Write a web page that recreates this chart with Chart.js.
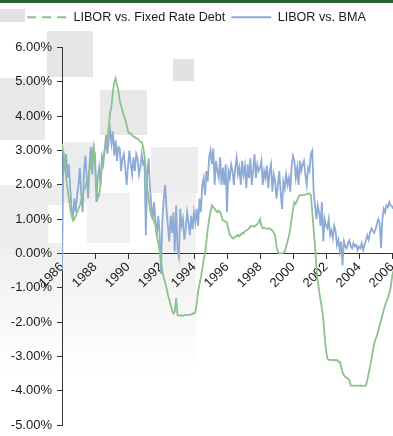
<!DOCTYPE html>
<html>
<head>
<meta charset="utf-8">
<script src="https://cdn.jsdelivr.net/npm/chart.js@4.4.1/dist/chart.umd.min.js"></script>
<style>
  html, body { margin: 0; padding: 0; background: #ffffff; }
  #wrap { width: 393px; height: 436px; position: relative; }
</style>
</head>
<body>
<div id="wrap"><canvas id="c" width="393" height="436"></canvas></div>
<script>
// Monthly spreads in percent, starting January 1986
const startYear = 1986;

const fixedRateSpread = [
  3.2, 2.9, 2.6, 2.2, 1.9, 1.6, 1.3, 1.1, 0.96, 1.0, 1.1, 1.2,
  1.3, 1.4, 1.55, 1.7, 1.85, 1.95, 2.1, 2.2, 2.4, 2.6, 2.85, 3.1,
  2.6, 2.0, 1.6, 1.7, 2.0, 2.5, 2.85, 3.0, 3.2, 3.35, 3.7, 4.1,
  4.3, 4.7, 5.0, 5.1, 4.9, 4.75, 4.45, 4.3, 4.15, 4.0, 3.9, 3.75,
  3.55, 3.5, 3.5, 3.45, 3.4, 3.4, 3.35, 3.35, 3.3, 3.25, 3.25, 3.1,
  2.85, 2.4, 1.9, 1.6, 1.3, 1.1, 1.0, 0.95, 0.8, 0.5, 0.3, 0.1,
  -0.2, -0.5, -0.7, -0.85, -1.0, -1.2, -1.35, -1.5, -1.65, -1.75, -1.7, -1.3,
  -1.8, -1.8, -1.82, -1.8, -1.82, -1.8, -1.78, -1.8, -1.8, -1.78, -1.78, -1.75,
  -1.75, -1.7, -1.45, -1.1, -0.9, -0.7, -0.45, -0.2, 0.0, 0.35, 0.7, 1.0,
  1.2, 1.4, 1.35, 1.3, 1.25, 1.2, 1.25, 1.2, 1.1, 0.96, 0.95, 0.93,
  0.9, 0.7, 0.55, 0.5, 0.44, 0.44, 0.5, 0.5, 0.55, 0.5, 0.55, 0.6,
  0.58, 0.65, 0.67, 0.7, 0.72, 0.8, 0.79, 0.8, 0.78, 0.82, 0.85, 0.9,
  1.0, 0.8, 0.73, 0.75, 0.73, 0.72, 0.73, 0.73, 0.7, 0.67, 0.6, 0.53,
  0.2, 0.06, 0.0, 0.0, 0.0, 0.02, 0.06, 0.2, 0.35, 0.5, 0.73, 1.0,
  1.3, 1.5, 1.45, 1.55, 1.65, 1.7, 1.7, 1.7, 1.7, 1.72, 1.72, 1.75,
  1.75, 1.7, 1.2, 0.7, 0.2, -0.4, -0.8, -1.1, -1.35, -1.6, -1.9, -2.4,
  -2.8, -3.06, -3.1, -3.1, -3.1, -3.12, -3.1, -3.12, -3.1, -3.15, -3.15, -3.3,
  -3.45, -3.55, -3.6, -3.62, -3.65, -3.7, -3.85, -3.85, -3.85, -3.86, -3.85, -3.85,
  -3.86, -3.85, -3.86, -3.86, -3.86, -3.85, -3.7, -3.5, -3.3, -3.1, -2.85, -2.65,
  -2.5, -2.4, -2.25, -2.1, -1.95, -1.8, -1.65, -1.5, -1.4, -1.3, -1.15, -1.0,
  -0.7, -0.5
];

const bmaSpread = [
  -0.5, 3.0, 2.4, 2.9, 2.2, 2.6, 1.9, 1.3, 1.1, 1.6, 1.2, 1.7,
  2.0, 2.5, 1.7, 1.2, 2.4, 2.85, 2.2, 1.6, 2.6, 3.1, 2.3, 3.05,
  2.9, 1.5, 2.2, 2.5, 2.0, 2.8, 2.6, 3.0, 3.45, 2.9, 3.3, 3.6,
  3.2, 3.55, 2.85, 3.3, 2.7, 3.1, 3.06, 2.4, 2.77, 2.9, 2.5, 2.0,
  2.55, 3.0, 2.6, 2.3, 2.8, 2.4, 2.9, 2.77, 2.3, 2.5, 2.9, 2.6,
  2.7, 0.53, 2.3, 2.77, 1.9, 1.4, 1.0, 1.5, 0.9, 0.5, 1.1, 0.6,
  -0.6, 1.0, 1.6, 2.0, 1.3, 0.8, 0.35, 1.1, 0.6, 1.2, 0.06, 1.4,
  0.1, -0.1, 1.3, 0.8, 1.0, 0.4, 0.73, 1.2, 0.9, 0.53, 1.1, 0.7,
  1.2, 0.9, 1.3, 0.8, 1.6, 1.2, 2.0, 2.2, 1.7, 2.4, 2.1, 2.8,
  3.0, 2.6, 3.06, 2.0, 2.7, 2.4, 2.2, 2.8, 2.0, 2.5, 2.0, 2.6,
  1.2, 2.4, 2.2, 2.6, 2.4, 2.0, 2.5, 2.8, 2.3, 2.5, 2.0, 2.7,
  2.3, 2.56, 1.9, 2.6, 2.2, 2.77, 2.0, 2.4, 2.9, 2.2, 2.6, 2.4,
  2.5, 2.7, 2.0, 2.4, 2.2, 2.56, 1.9, 2.4, 2.6, 1.8, 2.3, 2.1,
  1.6, 2.0, 2.4, 1.8, 1.3, 2.1, 1.9, 2.3, 2.0, 2.2, 1.8, 2.56,
  2.85, 2.7, 2.2, 2.5, 2.0, 2.7, 2.4, 2.6, 2.7, 2.3, 2.0, 2.5,
  2.4, 2.9, 3.0, 1.8, 1.4, 1.0, 1.4, 1.2, 0.8, 1.5, 0.35, 1.0,
  0.8, 0.73, 1.0, 0.53, 0.67, 0.44, 0.8, 0.64, 0.24, 0.4, 0.06, 0.35,
  -0.35, 0.35, 0.2, 0.15, 0.3, 0.38, 0.2, 0.15, 0.3, 0.2, 0.25, 0.1,
  0.2, 0.15, 0.3, 0.1, 0.25, 0.38, 0.53, 0.4, 0.6, 0.73, 0.67, 0.6,
  0.7, 0.85, 1.0, 0.9, 0.15, 1.0, 1.3, 1.2, 1.4, 1.35, 1.5, 1.4,
  1.37, 1.3
];

const seriesNames = ['LIBOR vs. Fixed Rate Debt', 'LIBOR vs. BMA'];
const yearTicks = [1986, 1988, 1990, 1992, 1994, 1996, 1998, 2000, 2002, 2004, 2006];
const percentTicks = [-5, -4, -3, -2, -1, 0, 1, 2, 3, 4, 5, 6];

function toPoints(values) {
  return values.map((v, i) => ({ x: startYear + i / 12, y: v }));
}

// Light panel blocks behind the plot and the thin band along the top edge
const backdrop = {
  id: 'backdrop',
  beforeDraw(chart) {
    const ctx = chart.ctx;
    ctx.save();
    const g = ctx.createLinearGradient(0, 255, 0, 375);
    g.addColorStop(0, '#f0f0f0');
    g.addColorStop(1, '#ffffff');
    ctx.fillStyle = g;
    ctx.fillRect(0, 255, 196, 120);
    const blocks = [
      [0, 9, 25, 13, '#e2e2e2'],
      [47, 31, 46, 46, '#e6e6e6'],
      [0, 78, 45, 62, '#e8e8e8'],
      [100, 90, 47, 45, '#e8e8e8'],
      [173, 59, 21, 22, '#e2e2e2'],
      [151, 147, 47, 46, '#ececec'],
      [63, 142, 32, 61, '#ececec'],
      [0, 185, 62, 70, '#eeeeee'],
      [87, 193, 43, 50, '#f1f1f1'],
      [163, 193, 33, 62, '#f1f1f1']
    ];
    blocks.forEach(([x, y, w, h, c]) => { ctx.fillStyle = c; ctx.fillRect(x, y, w, h); });
    ctx.fillStyle = '#ffffff';
    ctx.fillRect(48, 205, 37, 38);
    ctx.restore();
  },
  afterDraw(chart) {
    const ctx = chart.ctx;
    ctx.save();
    ctx.fillStyle = '#2b6337';
    ctx.fillRect(0, 0, chart.width, 3);
    ctx.restore();
  }
};

const fontFamily = '"Liberation Sans", Arial, sans-serif';
const font = { family: fontFamily, size: 13 };

new Chart(document.getElementById('c'), {
  type: 'line',
  data: {
    datasets: [
      {
        label: seriesNames[0],
        data: toPoints(fixedRateSpread),
        borderColor: '#8cc28c',
        backgroundColor: '#8cc28c',
        borderWidth: 1.8,
        pointRadius: 0,
        tension: 0,
        pointStyle: 'line',
        legendDash: [9, 6]
      },
      {
        label: seriesNames[1],
        data: toPoints(bmaSpread),
        borderColor: '#8eabd6',
        backgroundColor: '#8eabd6',
        borderWidth: 1.8,
        pointRadius: 0,
        tension: 0,
        pointStyle: 'line'
      }
    ]
  },
  options: {
    responsive: false,
    animation: false,
    layout: { padding: { top: 5, bottom: 0, left: 0, right: 0 } },
    plugins: {
      tooltip: { enabled: false },
      legend: {
        position: 'top',
        labels: {
          font: { family: fontFamily, size: 12.6 },
          color: '#1a1a1a',
          usePointStyle: true,
          pointStyleWidth: 40,
          boxWidth: 40,
          padding: 6,
          generateLabels(chart) {
            return chart.data.datasets.map((ds, i) => ({
              text: ds.label,
              datasetIndex: i,
              fillStyle: ds.borderColor,
              strokeStyle: ds.borderColor,
              lineWidth: 2,
              lineDash: ds.legendDash || [],
              pointStyle: 'line',
              hidden: false,
              fontColor: '#1a1a1a'
            }));
          }
        }
      }
    },
    scales: {
      x: {
        type: 'linear',
        position: { y: 0 },
        min: 1986,
        max: 2006.06,
        afterFit(scale) { scale.paddingLeft = 0; scale.paddingRight = 0; },
        afterBuildTicks(scale) { scale.ticks = yearTicks.map(v => ({ value: v })); },
        ticks: {
          autoSkip: false,
          maxRotation: 45,
          minRotation: 45,
          padding: 1,
          font: font,
          color: '#1a1a1a',
          callback: v => String(v)
        },
        grid: { drawOnChartArea: false, drawTicks: true, tickLength: 5, color: '#333333' },
        border: { display: true, color: '#333333', width: 1 }
      },
      // empty band separating the legend from the plot
      gap: {
        type: 'linear',
        axis: 'x',
        position: 'top',
        min: 1986,
        max: 2006.06,
        afterFit(scale) { scale.height = 14; scale.paddingLeft = 0; scale.paddingRight = 0; },
        ticks: { display: false },
        grid: { display: false },
        border: { display: false }
      },
      y: {
        min: -5,
        max: 6,
        afterFit(scale) { scale.width = 62; scale.paddingTop = 0; scale.paddingBottom = 11; },
        afterBuildTicks(scale) { scale.ticks = percentTicks.map(v => ({ value: v })); },
        ticks: {
          font: font,
          color: '#1a1a1a',
          padding: 5,
          callback: v => v.toFixed(2) + '%'
        },
        grid: { drawOnChartArea: false, drawTicks: true, tickLength: 5, color: '#333333' },
        border: { display: true, color: '#333333', width: 1 }
      }
    }
  },
  plugins: [backdrop]
});
</script>
</body>
</html>
